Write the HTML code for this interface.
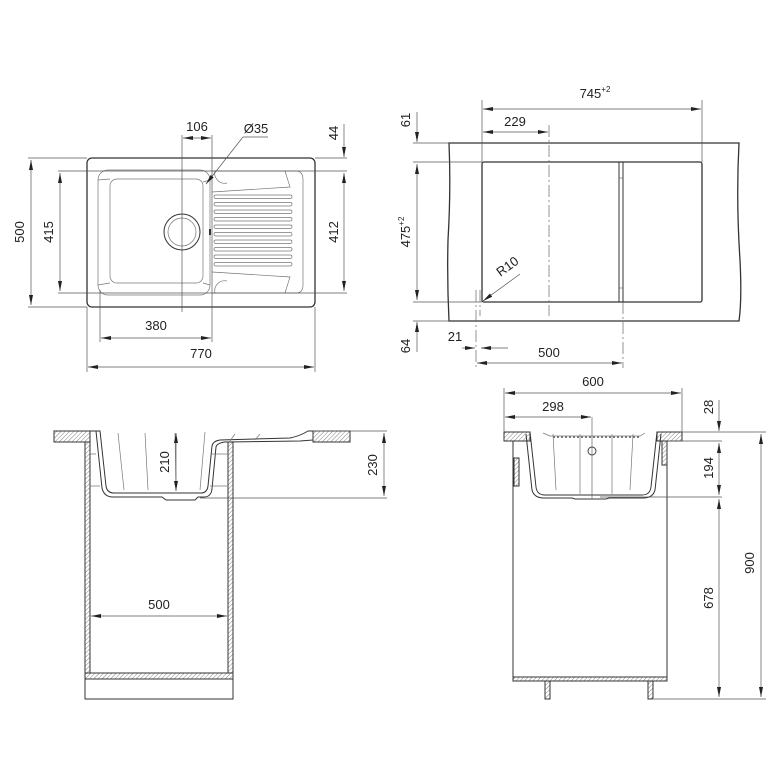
<!DOCTYPE html>
<html><head><meta charset="utf-8"><style>
html,body{margin:0;padding:0;background:#fff}
svg{display:block}
text{font-family:"Liberation Sans Narrow","Liberation Sans",sans-serif;font-size:13px;fill:#222}
.o{fill:none;stroke:#333;stroke-width:1.3}
.t{fill:none;stroke:#777;stroke-width:0.7}
.d{fill:none;stroke:#555;stroke-width:0.7}
.dd{fill:none;stroke:#666;stroke-width:0.7}
.a{fill:none;stroke:#555;stroke-width:0.7;marker-start:url(#ar);marker-end:url(#ar)}
.a1{fill:none;stroke:#555;stroke-width:0.7;marker-end:url(#ar)}
.h{fill:url(#hat);stroke:#333;stroke-width:1}
</style></head><body>
<svg width="780" height="780" viewBox="0 0 780 780" xmlns="http://www.w3.org/2000/svg">
<defs>
<marker id="ar" viewBox="0 0 10 4" refX="10" refY="2" markerWidth="10" markerHeight="4" markerUnits="userSpaceOnUse" orient="auto-start-reverse"><path d="M0,0 L10,2 L0,4z" fill="#222"/></marker>
<pattern id="hat" width="3" height="3" patternUnits="userSpaceOnUse" patternTransform="rotate(45)"><line x1="0" y1="0" x2="0" y2="3" stroke="#666" stroke-width="0.8"/></pattern>
</defs>

<!-- ========== TOP LEFT ========== -->
<rect class="o" x="87" y="158" width="228" height="149" rx="5"/>
<rect class="t" x="98" y="170" width="112" height="125" rx="10"/>
<rect class="t" x="110" y="179" width="93" height="104" rx="7"/>
<path class="t" d="M98,180 L110,179 M98,285 L110,283 M210,180 L203,182 M210,285 L203,283"/>
<path class="t" d="M212,171 H296 Q303,171 303,180 V285 Q303,293 296,293 H212"/>
<path class="t" d="M285,171 L290,187 L212,192 M285,293 L290,277 L212,272"/>
<g class="t">
<rect x="214" y="195" width="78" height="3.5" rx="1.7"/><rect x="214" y="202.5" width="78" height="3.5" rx="1.7"/>
<rect x="214" y="210" width="78" height="3.5" rx="1.7"/><rect x="214" y="217.5" width="78" height="3.5" rx="1.7"/>
<rect x="214" y="225" width="78" height="3.5" rx="1.7"/><rect x="214" y="232.5" width="78" height="3.5" rx="1.7"/>
<rect x="214" y="240" width="78" height="3.5" rx="1.7"/><rect x="214" y="247.5" width="78" height="3.5" rx="1.7"/>
<rect x="214" y="255" width="78" height="3.5" rx="1.7"/><rect x="214" y="262.5" width="78" height="3.5" rx="1.7"/>
</g>
<path class="t" d="M215,171 A10,10 0 0 0 227,183 M215,293 A10,10 0 0 1 227,281"/>
<circle class="o" cx="182" cy="232" r="18" style="stroke-width:1"/>
<circle class="t" cx="182" cy="232" r="14"/>
<rect x="209" y="229" width="2" height="6" fill="#333"/>
<!-- dims TL -->
<path class="d" d="M28,158 H87 M28,307 H87 M58,171 H215 M58,293 H215 M315,158 H347 M212,171 H347 M212,293 H347"/>
<path class="a" d="M31,160 V305"/><text transform="translate(24,232) rotate(-90)" text-anchor="middle">500</text>
<path class="a" d="M60,173 V291"/><text transform="translate(53,232) rotate(-90)" text-anchor="middle">415</text>
<path class="a" d="M344,173 V291"/><text transform="translate(338,232) rotate(-90)" text-anchor="middle">412</text>
<path class="a1" d="M344,124 V157"/><text transform="translate(338,133) rotate(-90)" text-anchor="middle">44</text>
<path class="d" d="M182,135 V312 M212,135 V342 M87,307 V372 M315,307 V372 M100,290 V342"/>
<path class="a" d="M183,138 H211"/><text x="197" y="131" text-anchor="middle">106</text>
<path class="d" d="M243,137 H268"/><path class="a1" d="M243,137 L206,184"/><text x="256" y="133" text-anchor="middle">Ø35</text>
<path class="a" d="M101,338 H211"/><text x="156" y="330" text-anchor="middle">380</text>
<path class="a" d="M88,367 H314"/><text x="201" y="358" text-anchor="middle">770</text>

<!-- ========== TOP RIGHT ========== -->
<path class="o" d="M449,143 H739 Q736,200 740,260 Q742,300 739,321 H449 Q447,280 448,240 Q451,190 449,143 Z"/>
<rect class="o" x="482" y="162" width="220" height="140" rx="2"/>
<rect class="o" x="619" y="162" width="4" height="140" style="stroke-width:1"/>
<path class="t" d="M619,178 H623 M619,288 H623"/>
<path class="d" d="M482,100 V162 M702,100 V162 M413,143 H449 M413,162 H482 M413,302 H482 M413,321 H449"/>
<path class="dd" d="M549,125 V316" stroke-dasharray="12,3,2,3"/>
<path class="dd" d="M476,290 V368 M480,290 V316 M623,302 V368" stroke-dasharray="12,3,2,3"/>
<path class="a" d="M483,109 H701"/><text x="595" y="98" text-anchor="middle">745<tspan font-size="8" dy="-6">+2</tspan></text>
<path class="a" d="M483,132 H548"/><text x="515" y="126" text-anchor="middle">229</text>
<path class="a1" d="M417,112 V142"/><text transform="translate(410,120) rotate(-90)" text-anchor="middle">61</text>
<path class="a" d="M417,164 V300"/><text transform="translate(410,232) rotate(-90)" text-anchor="middle">475<tspan font-size="8" dy="-6">+2</tspan></text>
<path class="a1" d="M417,352 V322"/><text transform="translate(410,346) rotate(-90)" text-anchor="middle">64</text>
<path class="a1" d="M462,348 H475"/><path class="a1" d="M508,348 H481"/><text x="455" y="341" text-anchor="middle">21</text>
<path class="a" d="M477,363 H622"/><text x="549" y="357" text-anchor="middle">500</text>
<path class="a1" d="M520,274 L483,301"/><text transform="translate(510,270) rotate(-36)" text-anchor="middle">R10</text>

<!-- ========== BOTTOM LEFT ========== -->
<rect class="h" x="54" y="431" width="36" height="11"/>
<rect class="h" x="313" y="431" width="37" height="11"/>
<path class="o" d="M90,431 H100 L106,486 Q107,493 114,493 H201 Q207,493 208,486 L212,446 Q213,441 220,440 L290,438 Q300,436 308,431 H313" style="stroke-width:1"/>
<path class="o" d="M96,431 L102,488 Q104,497 113,497 H162 L166,500 H195 L198,497 H204 Q211,497 212,489 L216,447 Q217,443 225,442 L300,441 L313,440" style="stroke-width:1"/>
<path class="t" d="M118,433 L124,490 M145,433 L148,490 M175,433 L176,490 M205,432 L200,490 M235,434 L230,441 M260,434 L255,440"/>
<rect class="h" x="85" y="442" width="5" height="231"/>
<rect class="h" x="228" y="442" width="5" height="231"/>
<rect class="h" x="85" y="673" width="148" height="6"/>
<rect class="o" x="85" y="679" width="148" height="20" style="stroke-width:1"/>
<path class="t" d="M90,454 H96 M212,454 H228 M90,486 H100 M210,486 H228"/>
<path class="d" d="M313,431 H387 M200,498 H387"/>
<path class="a" d="M176,433 V491"/><text transform="translate(169,462) rotate(-90)" text-anchor="middle">210</text>
<path class="a" d="M384,433 V496"/><text transform="translate(377,465) rotate(-90)" text-anchor="middle">230</text>
<path class="a" d="M91,616 H227"/><text x="159" y="609" text-anchor="middle">500</text>

<!-- ========== BOTTOM RIGHT ========== -->
<rect class="h" x="504" y="432" width="26" height="9"/>
<rect class="h" x="657" y="432" width="25" height="9"/>
<path class="o" d="M520,432 H530 L536,487 Q537,495 545,495 H642 Q650,495 651,487 L657,432 H667" style="stroke-width:1"/>
<path class="o" d="M526,434 L532,490 Q534,498 544,498 H572 L575,499 H606 L609,498 H643 Q653,498 655,490 L661,434" style="stroke-width:1"/>
<path class="t" d="M543,433 L550,436 H640 L645,433 M553,434 L556,490 M633,434 L630,490 M580,434 L580,494 M612,434 L612,494"/>
<path d="M553,437 H640" stroke="#777" stroke-width="2" stroke-dasharray="2,2" fill="none"/>
<circle class="o" cx="592" cy="451" r="4" style="stroke-width:0.9"/>
<path class="dd" d="M592,417 V499"/>
<path class="o" d="M513,441 V677 M667,441 V677" style="stroke-width:1"/>
<rect class="h" x="514" y="458" width="5" height="28"/>
<rect class="h" x="662" y="441" width="5" height="24"/>
<rect class="h" x="513" y="677" width="154" height="4"/>
<rect class="h" x="545" y="681" width="5" height="18"/>
<rect class="h" x="648" y="681" width="5" height="18"/>
<path class="d" d="M504,388 V432 M682,388 V432 M682,432 H766 M667,441 H722 M600,497 H722 M654,699 H766"/>
<path class="a" d="M505,393 H681"/><text x="593" y="386" text-anchor="middle">600</text>
<path class="a" d="M505,417 H591"/><text x="553" y="411" text-anchor="middle">298</text>
<path class="a1" d="M719,400 V431"/><text transform="translate(713,407) rotate(-90)" text-anchor="middle">28</text>
<path class="a" d="M719,443 V495"/><text transform="translate(713,468) rotate(-90)" text-anchor="middle">194</text>
<path class="a" d="M719,499 V697"/><text transform="translate(713,598) rotate(-90)" text-anchor="middle">678</text>
<path class="a" d="M761,434 V697"/><text transform="translate(754,563) rotate(-90)" text-anchor="middle">900</text>
</svg>
</body></html>
